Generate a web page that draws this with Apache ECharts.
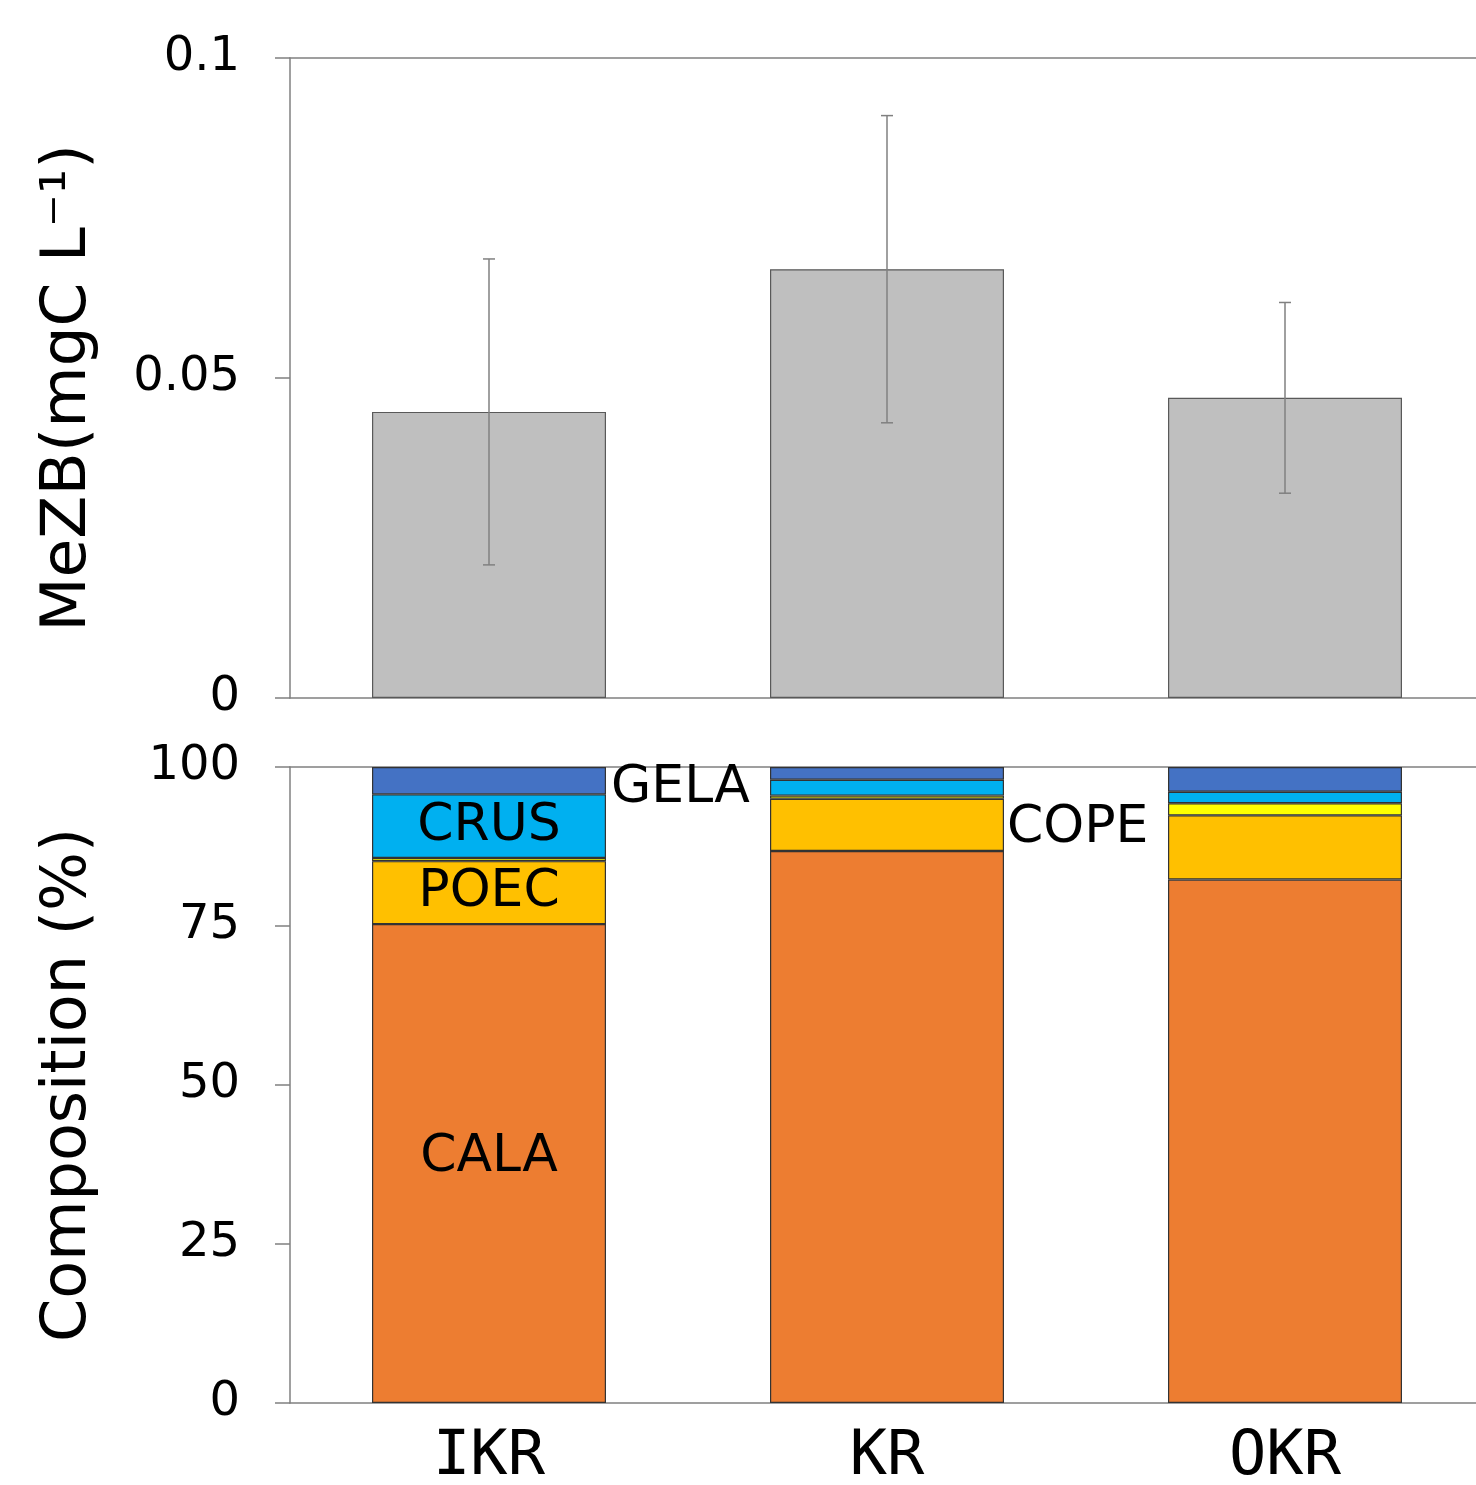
<!DOCTYPE html>
<html><head><meta charset="utf-8">
<script src="https://cdn.jsdelivr.net/npm/echarts@6/dist/echarts.min.js"></script>
<style>html,body{margin:0;padding:0;background:#fff;overflow:hidden}#c{width:1476px;height:1485px}</style>
</head><body><div id="c"></div>
<script>
const categories = ['IKR', 'KR', 'OKR'];
const mezbMean = [0.0447, 0.0670, 0.0469];
const mezbErr = [0.0239, 0.0240, 0.0149];
const cala = [75.3, 86.8, 82.3];
const poec = [9.9, 8.2, 10.1];
const cope = [0.5, 0.5, 1.9];
const crus = [10.0, 2.5, 1.8];
const gela = [4.3, 2.0, 3.9];
const topTicks = [0, 0.05, 0.1];
const bottomTicks = [0, 25, 50, 75, 100];

const chart = echarts.init(document.getElementById('c'));
const axisColor = '#808080';
const FONT = '"DejaVu Sans", sans-serif';
const lblStyle = {color: '#000', fontSize: 52, fontFamily: FONT};

function seg(name, vals, color, labels) {
  return {
    name, type: 'bar', stack: 'comp', xAxisIndex: 2, yAxisIndex: 1, barWidth: 234,
    itemStyle: {color, borderColor: '#333', borderWidth: 1.2},
    data: vals.map((v, i) => {
      const d = {value: v};
      if (labels && labels[i]) d.label = Object.assign({show: true, formatter: name}, lblStyle, labels[i]);
      return d;
    })
  };
}

chart.setOption({
  animation: false,
  grid: [
    {left: 290, top: 58, width: 1194, height: 640, outerBoundsMode: 'none', containLabel: false},
    {left: 290, top: 767, width: 1194, height: 636, outerBoundsMode: 'none', containLabel: false}
  ],
  xAxis: [
    {type: 'category', gridIndex: 0, data: categories, axisTick: {show: false}, axisLabel: {show: false},
     axisLine: {lineStyle: {color: axisColor, width: 1.5}}},
    {type: 'category', gridIndex: 0, position: 'top', data: categories, axisTick: {show: false}, axisLabel: {show: false},
     axisLine: {show: true, lineStyle: {color: axisColor, width: 1.5}}},
    {type: 'category', gridIndex: 1, data: categories, axisTick: {show: false},
     axisLabel: {color: '#000', fontSize: 62, fontFamily: '"DejaVu Sans Mono", monospace', margin: 24},
     axisLine: {lineStyle: {color: axisColor, width: 1.5}}},
    {type: 'category', gridIndex: 1, position: 'top', data: categories, axisTick: {show: false}, axisLabel: {show: false},
     axisLine: {show: true, lineStyle: {color: axisColor, width: 1.5}}}
  ],
  yAxis: [
    {type: 'value', gridIndex: 0, min: topTicks[0], max: topTicks[2], interval: topTicks[1] - topTicks[0],
     splitLine: {show: false},
     axisLine: {show: true, lineStyle: {color: axisColor, width: 1.5}},
     axisTick: {show: true, length: 15, lineStyle: {color: axisColor, width: 1.5}},
     axisLabel: {color: '#000', fontSize: 48, fontFamily: FONT, margin: 50},
     name: 'MeZB(mgC L\u207B\u00B9)', nameLocation: 'middle', nameRotate: 90, nameGap: 190,
     nameTextStyle: {color: '#000', fontSize: 63, fontFamily: FONT, padding: [0, 20, 0, 0]}},
    {type: 'value', gridIndex: 1, min: bottomTicks[0], max: bottomTicks[4], interval: bottomTicks[1] - bottomTicks[0],
     splitLine: {show: false},
     axisLine: {show: true, lineStyle: {color: axisColor, width: 1.5}},
     axisTick: {show: true, length: 15, lineStyle: {color: axisColor, width: 1.5}},
     axisLabel: {color: '#000', fontSize: 48, fontFamily: FONT, margin: 50},
     name: 'Composition (%)', nameLocation: 'middle', nameRotate: 90, nameGap: 190,
     nameTextStyle: {color: '#000', fontSize: 62, fontFamily: FONT}}
  ],
  series: [
    {type: 'bar', xAxisIndex: 0, yAxisIndex: 0, barWidth: 234, data: mezbMean,
     itemStyle: {color: '#bfbfbf', borderColor: '#595959', borderWidth: 1.2}},
    {type: 'custom', xAxisIndex: 0, yAxisIndex: 0, z: 10,
     data: mezbMean.map((m, i) => [i, m - mezbErr[i], m + mezbErr[i]]),
     renderItem: function (params, api) {
       const lo = api.coord([api.value(0), api.value(1)]);
       const hi = api.coord([api.value(0), api.value(2)]);
       const w = 6;
       const st = {stroke: '#808080', lineWidth: 1.5};
       return {type: 'group', children: [
         {type: 'line', shape: {x1: hi[0], y1: hi[1], x2: lo[0], y2: lo[1]}, style: st},
         {type: 'line', shape: {x1: hi[0] - w, y1: hi[1], x2: hi[0] + w, y2: hi[1]}, style: st},
         {type: 'line', shape: {x1: lo[0] - w, y1: lo[1], x2: lo[0] + w, y2: lo[1]}, style: st}
       ]};
     }},
    seg('CALA', cala, '#ED7D31', [{position: 'inside', offset: [0, -6]}, null, null]),
    seg('POEC', poec, '#FFC000', [{position: 'inside'}, null, null]),
    seg('COPE', cope, '#FFFF00', [null, {position: 'right', distance: 3, offset: [0, 31]}, null]),
    seg('CRUS', crus, '#00B0F0', [{position: 'inside'}, null, null]),
    seg('GELA', gela, '#4472C4', [{position: 'right', distance: 5, offset: [0, 8]}, null, null])
  ]
});
</script></body></html>
